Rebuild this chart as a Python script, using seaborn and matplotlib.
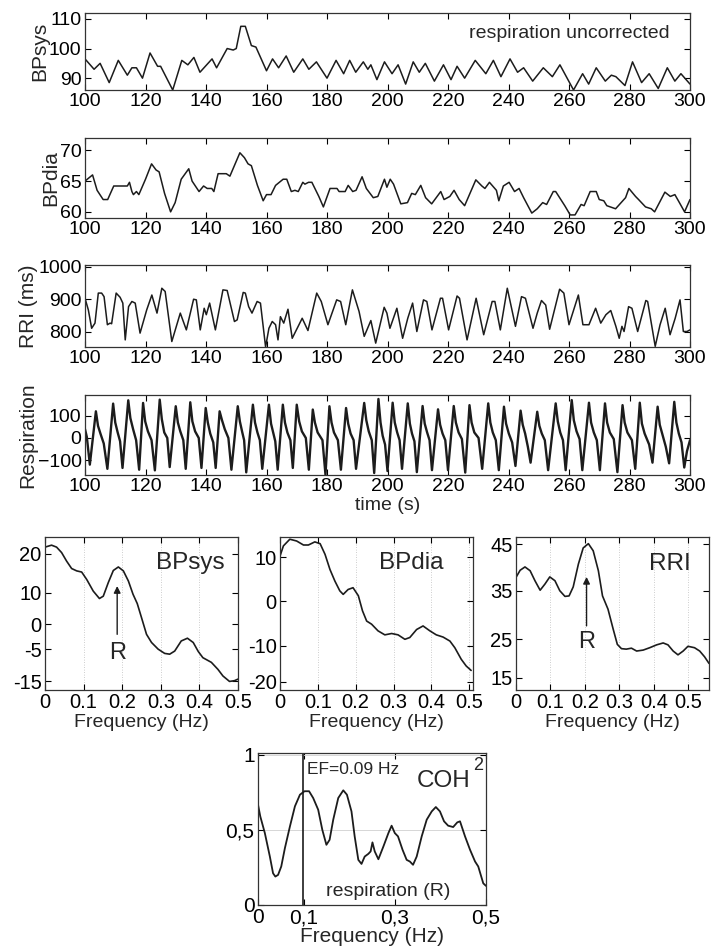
import numpy as np
import pandas as pd
import matplotlib
matplotlib.use("Agg")
import matplotlib.pyplot as plt
import seaborn as sns

# ---------------- data ----------------
bpsys_t = [100, 103, 105, 108, 111, 114, 115.5, 117, 119, 121.5,
           124, 125, 129, 132, 134, 136, 138, 142, 143.5, 147,
           149, 150, 151.5, 153, 155, 156.5, 160, 162, 164, 166.5,
           169, 172, 174, 176.5, 180, 183, 185.5, 187.5, 189.5, 192,
           193.5, 194.5, 196.5, 199, 201.5, 203.5, 206, 208.5, 210.5, 212.5,
           215.5, 218.5, 221, 223, 225.5, 229, 232.5, 235, 237.5, 240.5,
           243, 245, 248, 251.5, 254.5, 257, 261.5, 264.5, 266.5, 269,
           272, 274, 275.5, 278.5, 281, 284, 286.5, 289.5, 292.5, 295,
           297, 300]
bpsys_v = [96.5, 93, 95, 88.5, 96, 91, 93.5, 93.5, 90, 98.5,
           94, 94, 86, 96, 94.5, 97, 92, 96.5, 93.5, 100,
           99.5, 100, 107.5, 107.5, 101, 100.5, 92.5, 96.5, 93.5, 97.5,
           92, 96.5, 93, 95.5, 90, 96, 91.5, 96, 92, 95.5,
           93, 94.5, 89.5, 95.5, 91.5, 94.5, 88, 95.5, 92, 95,
           89, 94.5, 89.5, 94, 90, 96, 91.5, 96, 90.5, 96.5,
           92, 93.5, 89, 93.5, 90.5, 94.5, 86, 91.5, 88, 93.5,
           89, 91, 90.5, 87.5, 95.5, 88.5, 91.5, 86.5, 93.5, 89,
           91.5, 88]

bpdia_t = [100, 102.5, 104, 106, 107.5, 109.5, 114, 114.7, 115.5, 116,
           117, 117.8, 119.3, 120, 122, 123.5, 124.5, 126.3, 128.3, 129.8,
           131.8, 134.3, 135.4, 137.7, 139.2, 140.4, 141.9, 142.6, 144, 146.7,
           147.9, 151.2, 152.7, 153.9, 155, 157, 158.9, 160, 161.5, 163,
           165.5, 166.7, 168.2, 169.4, 170.5, 172, 172.7, 173.9, 175, 177.3,
           178.8, 181, 183.3, 184, 186, 187, 188.5, 189.6, 191.6, 193,
           195.3, 196.8, 199, 199.8, 200.9, 202, 204.4, 206.6, 208, 209.2,
           211, 212.6, 214.6, 217.6, 218.7, 220.6, 222, 223.7, 225.5, 229.2,
           231.2, 232.2, 233.7, 236, 236.8, 238.3, 240.2, 242, 243.5, 245,
           247.7, 249.5, 251.3, 252.6, 254.8, 255.6, 258.6, 260.4, 262, 264,
           265, 267, 269, 270, 271.5, 272.5, 275.4, 278.7, 279.8, 282,
           283, 285.3, 287.2, 288.3, 291.7, 293.5, 295, 296.5, 298.2, 300]
bpdia_v = [65, 66, 63.5, 62, 62, 64.2, 64.2, 64.8, 63.3, 62.8,
           63.3, 62.8, 64.5, 65.3, 67.8, 66.8, 66.5, 63, 60, 61.5,
           65.3, 67, 65, 63.3, 64.2, 63.8, 63.8, 63.3, 66.2, 66.2,
           65.8, 69.6, 68.8, 67.8, 67.5, 64.3, 61.8, 62.8, 62.8, 64.3,
           65.3, 65.3, 63.3, 63.5, 63.3, 64.8, 64.5, 64.8, 64.8, 62.5,
           60.8, 63.8, 63.8, 63.3, 63.3, 64.3, 63.3, 63.5, 65.7, 63.8,
           62.3, 62.5, 65.3, 64, 65.3, 64.5, 61.3, 61.5, 63, 62.8,
           64.3, 62.3, 61.3, 63.3, 62, 62.5, 63.5, 62, 61, 65.2,
           64.2, 63.8, 64.8, 63.5, 61.8, 64.2, 64.8, 63.3, 63.8, 62.3,
           59.8, 60.5, 61.5, 61.2, 63.3, 63.3, 61, 59.5, 59.5, 61.2,
           61, 63.3, 63.3, 62, 61.8, 61, 60.5, 62.3, 63.8, 62.5,
           62, 60.8, 60.5, 60, 63.2, 62.5, 62.8, 61.5, 60, 62]

rri_t = [100, 101.1, 102.2, 103.3, 104.4, 105.5, 106.3, 107.4, 108.3, 108.8,
         110.3, 111.6, 112.5, 113.3, 114.4, 115.5, 116.6, 118.2, 120.4, 122.1,
         123.8, 125.4, 126.5, 128.7, 131.5, 133.5, 135.9, 136.8, 138.1, 139.4,
         140.1, 141.2, 143.1, 145.6, 147, 149.4, 150.3, 152.3, 153, 154.1,
         155.2, 156.9, 158, 159.7, 160.8, 161.9, 163, 163.8, 164.6, 165.7,
         167.1, 168.5, 171.8, 173.7, 176.6, 178.1, 180.3, 183.2, 184.5, 186.2,
         188.4, 190.6, 192.3, 194.5, 196.1, 198.9, 199.8, 200.8, 203.1, 205.0,
         206.7, 208.3, 209.7, 211.9, 213.0, 214.7, 217.5, 218.2, 220.2, 223.0,
         223.8, 226.3, 229.3, 231.8, 234.6, 235.5, 237.3, 239.6, 242.3, 244.3,
         245.6, 248.1, 249.5, 250.9, 252.3, 253.6, 256.9, 258.3, 260.0, 263.1,
         264.6, 266.6, 268.8, 270.5, 272.2, 273.8, 275.5, 276.6, 277.5, 278.2,
         279.7, 280.8, 282.7, 285.4, 286.0, 288.5, 290.1, 291.8, 293.4, 295.1,
         296.7, 297.8, 299.0, 300]
rri_v = [903, 867, 810, 826, 919, 919, 908, 821, 826, 824,
         919, 906, 888, 774, 877, 893, 888, 795, 867, 913,
         857, 934, 924, 769, 857, 805, 900, 898, 805, 872,
         852, 888, 805, 929, 927, 831, 836, 921, 919, 877,
         857, 893, 888, 752, 810, 831, 821, 774, 846, 826,
         869, 779, 841, 803, 919, 893, 821, 898, 893, 821,
         929, 862, 785, 834, 764, 875, 857, 810, 872, 779,
         841, 888, 800, 898, 893, 805, 903, 903, 805, 910,
         903, 774, 903, 790, 893, 893, 805, 934, 816, 908,
         903, 810, 857, 896, 882, 807, 931, 919, 821, 913,
         821, 821, 872, 826, 852, 865, 816, 779, 816, 800,
         877, 872, 800, 896, 893, 754, 821, 872, 790, 841,
         898, 800, 800, 805]

resp_t = [100.0, 100.6,
          101.6, 103.6, 104.3, 105.1, 106.2,
          107.4, 109.3, 110.0, 110.8, 111.6,
          112.4, 114.3, 115.0, 115.9, 116.9,
          117.9, 119.2, 119.9, 120.8, 122.0,
          123.1, 124.7, 125.4, 126.2, 127.2,
          128.0, 130.0, 130.7, 131.5, 132.5,
          133.3, 134.8, 135.5, 136.4, 137.6,
          138.5, 139.9, 140.6, 141.4, 142.4,
          143.2, 144.5, 145.3, 146.2, 147.4,
          148.4, 150.5, 151.2, 152.0, 152.6,
          153.3, 155.5, 156.2, 157.0, 157.8,
          158.6, 160.8, 161.5, 162.3, 162.9,
          163.7, 165.4, 166.1, 166.9, 167.9,
          168.7, 170.0, 170.8, 171.7, 173.0,
          174.0, 175.3, 176.0, 176.9, 178.5,
          179.5, 180.8, 181.5, 182.3, 183.6,
          184.6, 186.3, 187.0, 187.8, 188.8,
          189.6, 192.3, 193.0, 193.8, 194.8,
          195.6, 197.0, 197.7, 198.4, 199.2,
          200.0, 201.7, 202.4, 203.2, 204.0,
          204.8, 206.7, 207.4, 208.1, 208.9,
          209.7, 211.6, 212.3, 213.1, 213.9,
          214.7, 216.7, 217.4, 218.2, 219.1,
          220.0, 221.9, 222.6, 223.5, 224.6,
          225.7, 227.1, 227.8, 228.7, 230.1,
          231.3, 233.3, 234.0, 234.8, 235.8,
          236.8, 238.5, 239.2, 240.1, 241.2,
          242.3, 244.0, 244.7, 245.5, 246.4,
          247.3, 249.5, 250.2, 251.0, 252.0,
          253.1, 255.6, 256.3, 257.1, 258.0,
          258.9, 260.9, 261.6, 262.5, 263.5,
          264.4, 266.6, 267.3, 268.2, 269.2,
          270.2, 271.9, 272.6, 273.5, 274.8,
          276.0, 277.7, 278.4, 279.3, 280.8,
          281.9, 283.4, 284.1, 285.0, 286.5,
          287.6, 289.3, 290.0, 290.9, 292.0,
          293.1, 294.8, 295.5, 296.3, 297.2,
          298.1, 299.0, 300.0]
resp_v = [40, 5,
          -121, 121, 55, 20, -25,
          -140, 156, 70, 25, -15,
          -136, 171, 90, 40, -10,
          -144, 159, 75, 30, -10,
          -147, 174, 85, 25, 0,
          -132, 144, 70, 30, -10,
          -140, 162, 75, 30, 0,
          -136, 136, 70, 20, -20,
          -136, 121, 80, 40, 0,
          -144, 144, 75, 25, -10,
          -156, 151, 70, 25, -10,
          -140, 151, 65, 20, -15,
          -144, 151, 70, 25, -10,
          -136, 151, 75, 30, 0,
          -144, 129, 70, 25, -10,
          -167, 144, 70, 25, -10,
          -144, 136, 65, 20, -10,
          -140, 159, 80, 30, -10,
          -159, 177, 70, 10, -30,
          -150, 160, 70, 25, -10,
          -140, 157, 65, 20, -15,
          -155, 145, 65, 25, -10,
          -146, 130, 60, 20, -10,
          -146, 145, 70, 25, -5,
          -157, 149, 70, 25, 0,
          -140, 157, 70, 25, -10,
          -146, 142, 65, 20, -20,
          -127, 124, 60, 20, -40,
          -112, 119, 55, 20, -10,
          -146, 157, 75, 25, -10,
          -146, 172, 80, 30, -5,
          -146, 160, 70, 25, -10,
          -146, 157, 70, 25, -5,
          -155, 149, 70, 25, -10,
          -140, 160, 65, 20, -30,
          -112, 142, 60, 15, -40,
          -115, 164, 70, 20, -20,
          -134, -60, -10]

# spectra (frequency in Hz, power in the axis units of each panel)
psd_sys_f = [0, 0.017, 0.03, 0.043, 0.056, 0.069, 0.082, 0.095, 0.108, 0.125,
             0.141, 0.151, 0.164, 0.177, 0.19, 0.203, 0.216, 0.228, 0.239, 0.25,
             0.263, 0.276, 0.293, 0.31, 0.323, 0.336, 0.353, 0.369, 0.384, 0.397,
             0.409, 0.431, 0.448, 0.461, 0.478, 0.491, 0.5]
psd_sys_v = [21.7, 22.2, 21.7, 20.3, 18.1, 16.2, 15.6, 15.3, 13.4, 10.4,
             8.5, 9.1, 12.6, 15.7, 16.6, 15.6, 13.0, 9.6, 7.2, 3.6,
             -0.7, -2.8, -4.5, -5.6, -5.8, -5.0, -2.4, -1.7, -2.8, -5.1,
             -6.7, -7.9, -9.7, -11.4, -12.8, -12.6, -12.2]
psd_dia_f = [0, 0.009, 0.026, 0.044, 0.062, 0.075, 0.092, 0.106, 0.119, 0.132,
             0.145, 0.158, 0.167, 0.18, 0.193, 0.207, 0.218, 0.229, 0.242, 0.259,
             0.277, 0.295, 0.312, 0.33, 0.343, 0.361, 0.378, 0.396, 0.413, 0.431,
             0.449, 0.462, 0.479, 0.492, 0.505]
psd_dia_v = [10.2, 12.5, 14.0, 13.6, 12.7, 12.7, 13.4, 13.0, 10.6, 7.2,
             4.6, 2.4, 1.6, 2.7, 3.1, 1.3, -2.1, -4.4, -5.1, -6.6,
             -7.5, -7.2, -7.5, -8.5, -8.1, -6.3, -5.5, -6.6, -7.5, -8.0,
             -8.9, -10.4, -13.0, -14.5, -15.5]
psd_rri_f = [0, 0.012, 0.026, 0.041, 0.055, 0.07, 0.084, 0.098, 0.113, 0.127,
             0.142, 0.154, 0.166, 0.181, 0.195, 0.21, 0.224, 0.239, 0.251, 0.267,
             0.282, 0.294, 0.306, 0.32, 0.335, 0.35, 0.369, 0.388, 0.408, 0.427,
             0.441, 0.456, 0.47, 0.485, 0.499, 0.518, 0.533, 0.547, 0.56]
psd_rri_v = [38.0, 39.5, 40.2, 39.4, 37.3, 35.3, 36.6, 38.1, 37.3, 35.2,
             34.0, 34.1, 36.0, 40.8, 44.2, 45.1, 43.6, 39.4, 34.1, 31.3,
             27.1, 23.9, 23.0, 22.9, 23.1, 22.5, 22.7, 23.2, 23.8, 24.2,
             23.8, 22.5, 21.7, 22.5, 23.5, 23.2, 22.5, 21.3, 19.9]

coh_f = [0, 0.005, 0.015, 0.026, 0.033, 0.038, 0.044, 0.051, 0.059, 0.07,
         0.081, 0.092, 0.102, 0.112, 0.121, 0.132, 0.141, 0.15, 0.157, 0.165,
         0.176, 0.187, 0.195, 0.205, 0.212, 0.22, 0.227, 0.234, 0.242, 0.247,
         0.251, 0.256, 0.264, 0.275, 0.286, 0.293, 0.3, 0.307, 0.317, 0.326,
         0.333, 0.34, 0.348, 0.359, 0.37, 0.381, 0.39, 0.399, 0.408, 0.417,
         0.428, 0.437, 0.443, 0.454, 0.465, 0.476, 0.483, 0.494, 0.5]
coh_v = [0.667, 0.589, 0.478, 0.322, 0.211, 0.189, 0.2, 0.256, 0.378, 0.522,
         0.656, 0.733, 0.756, 0.756, 0.711, 0.633, 0.5, 0.4, 0.433, 0.567,
         0.711, 0.762, 0.733, 0.622, 0.456, 0.3, 0.273, 0.322, 0.34, 0.356,
         0.416, 0.356, 0.304, 0.389, 0.478, 0.527, 0.478, 0.456, 0.367, 0.3,
         0.289, 0.267, 0.322, 0.456, 0.567, 0.622, 0.651, 0.622, 0.556, 0.527,
         0.518, 0.549, 0.556, 0.456, 0.367, 0.289, 0.256, 0.144, 0.127]
ef_line = 0.098

# tick labels
time_ticks = [100, 120, 140, 160, 180, 200, 220, 240, 260, 280, 300]
freq_ticks = [0, 0.1, 0.2, 0.3, 0.4, 0.5]
freq_labels = ["0", "0.1", "0.2", "0.3", "0.4", "0.5"]
sys_ytick_pos = [20, 10, 1.9, -4.5, -12.8]
sys_ytick_lab = ["20", "10", "0", "-5", "-15"]
dia_ytick_pos = [10, 0, -10, -18.0]
dia_ytick_lab = ["10", "0", "-10", "-20"]
rri_ytick_pos = [45, 35.2, 25.0, 16.9]
rri_ytick_lab = ["45", "35", "25", "15"]
coh_xticks = [0, 0.1, 0.3, 0.5]
coh_xlabels = ["0", "0,1", "0,3", "0,5"]
coh_yticks = [0, 0.5, 1]
coh_ylabels = ["0", "0,5", "1"]

# ---------------- drawing ----------------
sns.set_theme(style="ticks")
plt.rcParams["font.family"] = ["Liberation Sans", "DejaVu Sans"]
LINE = "#1c1c1c"
W, H = 714, 951

fig = plt.figure(figsize=(W / 100, H / 100), dpi=100)
fig.patch.set_facecolor("white")


def px_axes(left, top, right, bottom):
    return fig.add_axes([left / W, 1 - bottom / H, (right - left) / W, (bottom - top) / H])


def style(ax, ls=14):
    ax.tick_params(direction="in", length=4, width=0.8, top=True, right=True,
                   labelsize=ls, pad=2.5, colors="black")
    for s in ax.spines.values():
        s.set_color("#333333")
        s.set_linewidth(0.9)


def draw(ax, x, y, lw):
    df = pd.DataFrame({"x": x, "y": y})
    sns.lineplot(data=df, x="x", y="y", ax=ax, color=LINE, lw=lw,
                 estimator=None, sort=False, legend=False)
    ax.set_xlabel("")
    ax.set_ylabel("")


# --- time series panels ---
ts = [
    ((85, 13, 690, 90), bpsys_t, bpsys_v, (86, 112), [90, 100, 110], "BPsys", 1.1),
    ((85, 138, 690, 218), bpdia_t, bpdia_v, (59.0, 72), [60, 65, 70], "BPdia", 1.1),
    ((85, 265, 690, 347), rri_t, rri_v, (752, 1006), [800, 900, 1000], "RRI (ms)", 1.1),
    ((85, 395, 690, 475), resp_t, resp_v, (-168, 195), [-100, 0, 100], "Respiration", 1.7),
]
ts_axes = []
for rect, tx, vy, ylim, yt, lab, lw in ts:
    ax = px_axes(*rect)
    draw(ax, tx, vy, lw)
    ax.set_xlim(100, 300)
    ax.set_ylim(*ylim)
    ax.set_xticks(time_ticks)
    ax.set_yticks(yt)
    ax.set_ylabel(lab, fontsize=15, labelpad=0)
    style(ax, 14)
    ts_axes.append(ax)

ts_axes[0].text(227, 105.2, "respiration uncorrected", fontsize=14, va="center", ha="left")
ts_axes[3].set_xlabel("time (s)", fontsize=14, labelpad=1)

# --- spectra ---
spec = [
    ((45, 537, 238, 690), psd_sys_f, psd_sys_v, (0, 0.5), (-15.0, 24.3), sys_ytick_pos, sys_ytick_lab, "BPsys", (0.377, 17.7)),
    ((280, 537, 473, 690), psd_dia_f, psd_dia_v, (0, 0.51), (-19.9, 14.5), dia_ytick_pos, dia_ytick_lab, "BPdia", (0.347, 8.7)),
    ((516, 537, 709, 690), psd_rri_f, psd_rri_v, (0, 0.56), (14.3, 46.5), rri_ytick_pos, rri_ytick_lab, "RRI", (0.446, 40.8)),
]
spec_axes = []
for rect, fx, vy, xlim, ylim, ytp, ytl, title, tpos in spec:
    ax = px_axes(*rect)
    draw(ax, fx, vy, 1.2)
    ax.set_xlim(*xlim)
    ax.set_ylim(*ylim)
    ax.set_xticks(freq_ticks, freq_labels)
    ax.set_yticks(ytp, ytl)
    ax.grid(axis="x", color="#bdbdbd", lw=0.6, ls=(0, (1, 2)))
    ax.set_xlabel("Frequency (Hz)", fontsize=14, labelpad=1)
    style(ax, 14.5)
    ax.text(tpos[0], tpos[1], title, fontsize=17.5, ha="center", va="center")
    spec_axes.append(ax)

arrow_kw = dict(arrowstyle="-|>", color=LINE, lw=1.0, mutation_scale=10, shrinkA=0, shrinkB=0)
spec_axes[0].annotate("", xy=(0.187, 11.7), xytext=(0.187, -0.7), arrowprops=arrow_kw)
spec_axes[0].text(0.187, -5.4, "R", fontsize=17, ha="center", va="center")
spec_axes[2].annotate("", xy=(0.2047, 38.1), xytext=(0.2047, 27.8), arrowprops=arrow_kw)
spec_axes[2].text(0.2047, 24.3, "R", fontsize=17, ha="center", va="center")

# --- coherence ---
axc = px_axes(258, 753, 486, 905)
draw(axc, coh_f, coh_v, 1.3)
axc.axvline(ef_line, color=LINE, lw=1.2)
axc.set_xlim(0, 0.5)
axc.set_ylim(0, 1.01)
axc.set_xticks(coh_xticks, coh_xlabels)
axc.set_yticks(coh_yticks, coh_ylabels)
axc.grid(axis="y", color="#d0d0d0", lw=0.6)
axc.set_xlabel("Frequency (Hz)", fontsize=15, labelpad=0)
style(axc, 15)
axc.text(0.1076, 0.9, "EF=0.09 Hz", fontsize=12.5, ha="left", va="center")
axc.text(0.348, 0.822, "COH", fontsize=17.5, ha="left", va="center")
axc.text(0.482, 0.93, "2", fontsize=13, ha="center", va="center")
axc.text(0.2855, 0.089, "respiration (R)", fontsize=14, ha="center", va="center")

fig.savefig("out.png", dpi=100, facecolor="white")
